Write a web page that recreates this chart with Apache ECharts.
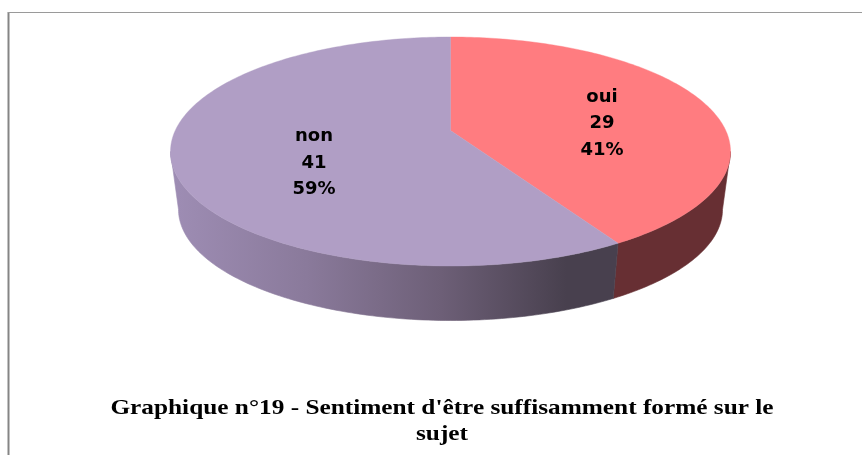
<!DOCTYPE html>
<html><head><meta charset="utf-8">
<style>html,body{margin:0;padding:0;background:#fff}#c{width:862px;height:455px}</style>
<script src="https://cdn.jsdelivr.net/npm/echarts@6/dist/echarts.min.js"></script>
</head><body><div id="c"></div>
<script>
const categories = ['oui', 'non'];
const values = [29, 41];
const topColors = ['#FF7C80', '#B09EC5'];
const titleText = "Graphique n°19 - Sentiment d'être suffisamment formé sur le\nsujet";

// Perspective disc geometry
const topDisc = {cx: 450.5, cy: 151.5, rx: 280, ry: 114.5};
const lowDisc = {cx: 450.5, cy: 209.5, rx: 272, ry: 111};
const persp = -0.1834;
const labelAnchors = [[602, 123.5], [314, 163]];

function project(d, deg) {
  const t = deg * Math.PI / 180, u = Math.sin(t), v = -Math.cos(t);
  const w = 1 + persp * v;
  return [
    d.cx + d.rx * Math.sqrt(1 - persp * persp) * u / w,
    d.cy + d.ry * (v + persp) / w
  ];
}
function arc(d, a0, a1) {
  const pts = [], n = Math.max(2, Math.ceil(Math.abs(a1 - a0)));
  for (let i = 0; i <= n; i++) pts.push(project(d, a0 + (a1 - a0) * i / n));
  return pts;
}
const total = values.reduce((a, b) => a + b, 0);
const silhouette = Math.acos(persp) * 180 / Math.PI;
const wallFills = [
  '#672F33',
  {type: 'linear', x: 172, y: 0, x2: 620, y2: 0, global: true, colorStops: [
    {offset: 0, color: '#9E8DB4'},
    {offset: 0.3, color: '#8A7A9B'},
    {offset: 0.6, color: '#6D5F77'},
    {offset: 0.88, color: '#48404E'},
    {offset: 1, color: '#48404E'}
  ]}
];

function renderItem(params, api) {
  const i = params.dataIndex;
  let start = 0;
  for (let k = 0; k < i; k++) start += values[k];
  const a0 = start / total * 360, a1 = (start + api.value(0)) / total * 360;
  const children = [];
  const w0 = Math.max(a0, silhouette), w1 = Math.min(a1, 360 - silhouette);
  if (w1 > w0) {
    children.push({type: 'polygon', shape: {points: arc(topDisc, w0, w1).concat(arc(lowDisc, w1, w0))},
      style: {fill: wallFills[i], stroke: wallFills[i], lineWidth: 0.6}});
  }
  const apex = [topDisc.cx, topDisc.cy + topDisc.ry * persp];
  children.push({type: 'polygon', z2: 5,
    shape: {points: [apex].concat(arc(topDisc, a0, a1))},
    style: {fill: topColors[i], stroke: topColors[i], lineWidth: 0.4}});
  children.push({type: 'text', z2: 10, style: {
    x: labelAnchors[i][0], y: labelAnchors[i][1], align: 'center', verticalAlign: 'middle',
    text: categories[i] + '\n' + values[i] + '\n' + Math.round(values[i] / total * 100) + '%',
    font: 'bold 18px "DejaVu Sans"', lineHeight: 26.5, fill: '#000'}});
  return {type: 'group', children};
}

const chart = echarts.init(document.getElementById('c'), null, {renderer: 'canvas'});
chart.setOption({
  animation: false,
  backgroundColor: '#fff',
  graphic: [
    {type: 'line', shape: {x1: 8.5, y1: 12, x2: 8.5, y2: 455}, style: {stroke: '#858585', lineWidth: 2}},
    {type: 'line', shape: {x1: 8, y1: 12.5, x2: 862, y2: 12.5}, style: {stroke: '#9a9a9a', lineWidth: 1}},
    {type: 'text', x: 442, y: 421, originX: 0, originY: 0, scaleX: 1.15, style: {
      text: titleText, align: 'center', verticalAlign: 'middle',
      font: 'bold 22px "Liberation Serif"', lineHeight: 26, fill: '#000'}}
  ],
  series: [{type: 'custom', coordinateSystem: 'none', renderItem, data: values, silent: true}]
});
</script></body></html>
